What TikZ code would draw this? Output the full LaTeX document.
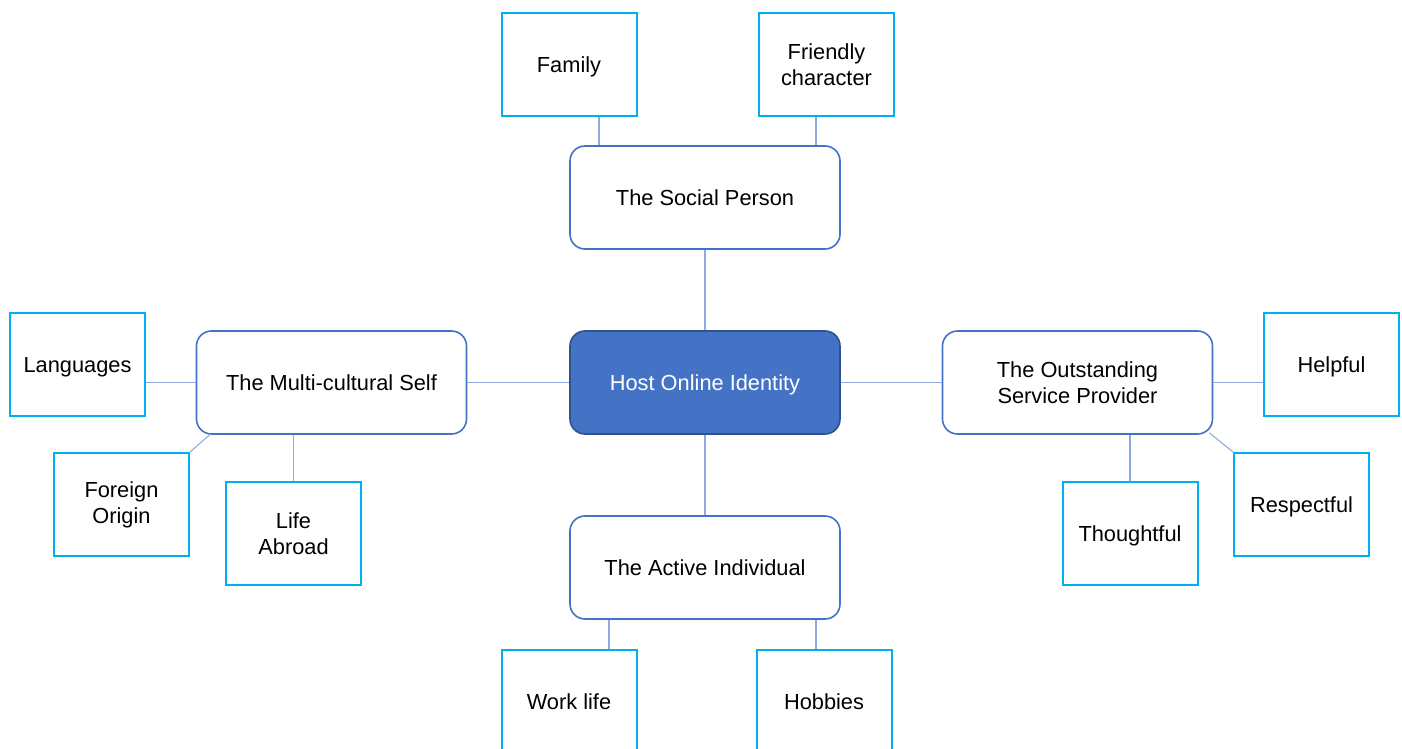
\documentclass[tikz,border=0pt]{standalone}
\usepackage{fontspec}
\setmainfont{Liberation Sans}
\definecolor{leafc}{HTML}{00B0F0}
\definecolor{roundc}{HTML}{4472C4}
\definecolor{hostb}{HTML}{2F528F}
\definecolor{linkc}{HTML}{8FAADC}
\tikzset{
  leaf/.style={draw=leafc, line width=1pt, fill=white, minimum width=67.5pt, minimum height=51.5pt, inner sep=2pt, align=center, font=\fontsize{10.9}{13}\selectfont},
  topic/.style={draw=roundc, line width=0.8pt, fill=white, rounded corners=7.5pt, minimum width=135pt, minimum height=51.5pt, inner sep=2pt, align=center, font=\fontsize{10.9}{13}\selectfont},
  hub/.style={topic, draw=hostb, fill=roundc, text=white},
  oneline/.style={text height=7.8pt, text depth=0pt},
  link/.style={draw=linkc, line width=0.55pt}
}
\begin{document}
\begin{tikzpicture}[x=0.5pt, y=-0.5pt]
\useasboundingbox (0,0) rectangle (1402,749);
\clip (0,0) rectangle (1402,749);
\node[hub,oneline]   (host)   at (705,382.5)  {Host Online Identity};
\node[topic,oneline] (social) at (705,197.5)  {The Social Person};
\node[topic,oneline] (multi)  at (331.5,382.5) {The Multi-cultural Self};
\node[topic] (outst)  at (1077.5,382.5) {The Outstanding\\Service Provider};
\node[topic,oneline] (active) at (705,567.5)  {The Active Individual};
\node[leaf,oneline] (family)   at (569,64.5)    {Family};
\node[leaf] (friendly) at (826.5,64.5)  {Friendly\\character};
\node[leaf,oneline] (lang)     at (77.5,364.5)  {Languages};
\node[leaf] (foreign)  at (121.5,504.5) {Foreign\\Origin};
\node[leaf] (life)     at (293.5,533.5) {Life\\Abroad};
\node[leaf,oneline] (helpful)  at (1331.5,364.5) {Helpful};
\node[leaf,oneline] (thought)  at (1130,533.5)  {Thoughtful};
\node[leaf,oneline] (respect)  at (1301.5,504.5) {Respectful};
\node[leaf,oneline] (work)     at (569,701.5)   {Work life};
\node[leaf,oneline] (hobbies)  at (824,701.5)   {Hobbies};
% connectors
\draw[link] (host.north) -- (social.south);
\draw[link] (host.south) -- (active.north);
\draw[link] (host.west) -- (multi.east);
\draw[link] (host.east) -- (outst.west);
\draw[link] ([xshift=15pt]family.south) -- ([xshift=15pt]family.south |- social.north);
\draw[link] ([xshift=-5.25pt]friendly.south) -- ([xshift=-5.25pt]friendly.south |- social.north);
\draw[link] (multi.west) -- (multi.west -| lang.east);
\draw[link] (foreign.north east) -- ([xshift=7pt]multi.south west);
\draw[link] (life.north) -- (life.north |- multi.south);
\draw[link] (outst.east) -- (outst.east -| helpful.west);
\draw[link] (thought.north) -- (thought.north |- outst.south);
\draw[link] (respect.north west) -- ([xshift=-2pt,yshift=1pt]outst.south east);
\draw[link] ([xshift=20pt]work.north) -- ([xshift=20pt]work.north |- active.south);
\draw[link] ([xshift=-4pt]hobbies.north) -- ([xshift=-4pt]hobbies.north |- active.south);
\end{tikzpicture}
\end{document}
